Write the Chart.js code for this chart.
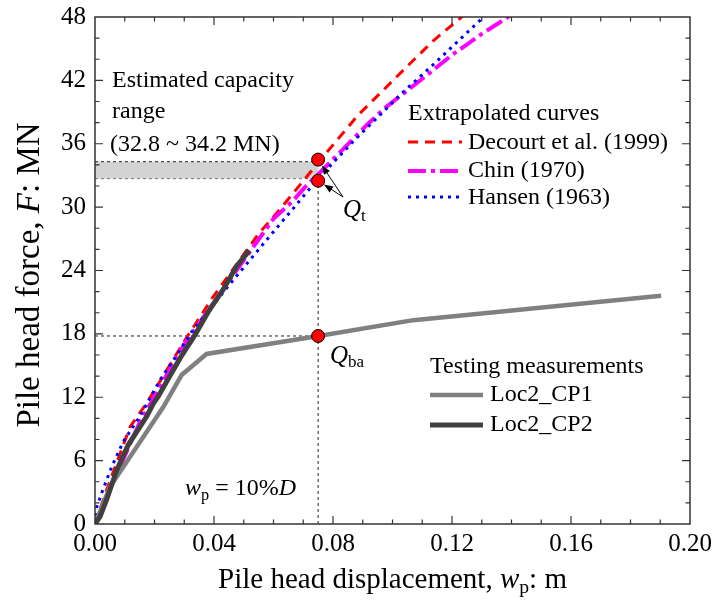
<!DOCTYPE html>
<html lang="en">
<head>
<meta charset="UTF-8">
<title>Pile head force vs displacement</title>
<script src="https://cdn.jsdelivr.net/npm/chart.js@4.4.1/dist/chart.umd.min.js"></script>
<style>
    html, body { margin: 0; padding: 0; background: #fff; }
    .chart-container { position: relative; width: 716px; height: 613px; }
</style>
</head>
<body>
<div class="chart-container">
    <canvas id="pileChart" width="716" height="613"></canvas>
</div>
<script>
    // values: x = pile head displacement (m), y = force (MN)
    const cp1X = [0, 0.005, 0.023, 0.0291, 0.0375, 0.0751, 0.107, 0.1903];
    const cp1Y = [0, 3.5, 11.1, 14.1, 16.1, 17.8, 19.3, 21.6];

    const cp2X = [0, 0.0017, 0.0039, 0.0073, 0.0112, 0.0174, 0.0196, 0.0213, 0.0241, 0.0286, 0.0336, 0.0381, 0.0431, 0.0476, 0.0519];
    const cp2Y = [0, 0.7, 2.3, 5.1, 7.5, 10.2, 11.4, 12.1, 13.5, 15.7, 17.9, 20.1, 22.2, 24.4, 25.9];

    const decourtX = [0, 0.004, 0.0118, 0.0175, 0.0309, 0.0397, 0.0548, 0.0622, 0.0766, 0.0884, 0.1002, 0.1052, 0.1135, 0.1245];
    const decourtY = [0, 3.3, 9.2, 11.5, 17.7, 21.5, 27.4, 29.8, 34.75, 38.7, 42.0, 43.4, 45.7, 48.3];

    const chinX = [0, 0.005, 0.015, 0.03, 0.045, 0.06, 0.0662, 0.0706, 0.075, 0.0824, 0.0918, 0.0975, 0.1116, 0.12, 0.13, 0.14];
    const chinY = [0, 3.3, 9.6, 17.0, 23.0, 28.9, 30.5, 31.9, 33.1, 35.2, 37.9, 39.4, 42.5, 44.4, 46.4, 48.2];

    const hansenX = [0, 0.0006, 0.0022, 0.0056, 0.0095, 0.0151, 0.0218, 0.0275, 0.0325, 0.045, 0.0577, 0.0667, 0.075, 0.0864, 0.1032, 0.1143, 0.131];
    const hansenY = [0, 1.6, 2.9, 5.4, 7.8, 10.2, 13.6, 16.0, 18.2, 22.6, 26.9, 29.9, 32.7, 36.1, 40.8, 43.65, 48.1];

    // Q_t (upper, lower) and Q_ba at wp = 10%D
    const qX = [0.075, 0.075, 0.075];
    const qY = [34.5, 32.5, 17.8];

    // estimated capacity band and guide lines
    const bandX = [0, 0.075];
    const bandTop = 34.3;
    const bandBottom = 32.7;
    const guideHX = [0, 0.075], guideHY = [17.8, 17.8];
    const guideVX = [0.075, 0.075], guideVY = [0, 32.5];

    // axes
    const xMin = 0, xMax = 0.2, xStep = 0.04, xMinor = 0.01;
    const yMin = 0, yMax = 48, yStep = 6, yMinor = 2;

    const serif = "'Liberation Serif', 'Times New Roman', serif";

    function pts(xs, ys) {
        return xs.map((v, i) => ({ x: v, y: Array.isArray(ys) ? ys[i] : ys }));
    }

    const styles = {
        cp1: { color: '#808080', width: 4.5, dash: [] },
        cp2: { color: '#404040', width: 5, dash: [] },
        decourt: { color: '#ff0000', width: 3, dash: [10, 7] },
        chin: { color: '#ff00ff', width: 4, dash: [18, 5, 4, 5] },
        hansen: { color: '#0000ff', width: 3, dash: [3, 5] }
    };

    function lineSet(data, st, order) {
        return {
            data: data, showLine: true, pointRadius: 0,
            borderColor: st.color, borderWidth: st.width, borderDash: st.dash,
            tension: 0, fill: false, order: order
        };
    }

    const guide = { borderColor: '#222', borderWidth: 1, borderDash: [3, 3], showLine: true, pointRadius: 0, tension: 0 };

    // text helper: parts with italic / subscript pieces
    function rich(ctx, x, y, parts, size) {
        let cx = x;
        parts.forEach(p => {
            const s = p.sub ? size * 0.68 : size;
            ctx.font = (p.i ? 'italic ' : '') + s + 'px ' + serif;
            ctx.fillText(p.t, cx, p.sub ? y + size * 0.28 : y);
            cx += ctx.measureText(p.t).width;
        });
        return cx - x;
    }
    function richWidth(ctx, parts, size) {
        let w = 0;
        parts.forEach(p => {
            const s = p.sub ? size * 0.68 : size;
            ctx.font = (p.i ? 'italic ' : '') + s + 'px ' + serif;
            w += ctx.measureText(p.t).width;
        });
        return w;
    }

    function sample(ctx, x1, x2, y, st) {
        ctx.save();
        ctx.strokeStyle = st.color; ctx.lineWidth = st.width; ctx.setLineDash(st.dash);
        ctx.beginPath(); ctx.moveTo(x1, y); ctx.lineTo(x2, y); ctx.stroke();
        ctx.restore();
    }

    function arrow(ctx, sx, sy, cx, cy, r) {
        const dx = sx - cx, dy = sy - cy, len = Math.hypot(dx, dy);
        const ux = dx / len, uy = dy / len;
        const tx = cx + ux * r, ty = cy + uy * r;
        ctx.beginPath(); ctx.moveTo(sx, sy); ctx.lineTo(tx + ux * 6, ty + uy * 6); ctx.stroke();
        ctx.beginPath();
        ctx.moveTo(tx, ty);
        ctx.lineTo(tx + ux * 9 - uy * 3.5, ty + uy * 9 + ux * 3.5);
        ctx.lineTo(tx + ux * 9 + uy * 3.5, ty + uy * 9 - ux * 3.5);
        ctx.closePath(); ctx.fill();
    }

    const decor = {
        id: 'decor',
        afterDraw(chart) {
            const { ctx, chartArea: a, scales: { x, y } } = chart;
            ctx.save();
            // frame + inward ticks on all sides
            ctx.strokeStyle = '#333'; ctx.lineWidth = 1.5;
            ctx.strokeRect(a.left, a.top, a.right - a.left, a.bottom - a.top);
            ctx.lineWidth = 1.2;
            const nx = Math.round((xMax - xMin) / xMinor);
            for (let i = 1; i < nx; i++) {
                const px = x.getPixelForValue(xMin + i * xMinor);
                const L = (i % Math.round(xStep / xMinor) === 0) ? 8 : 4.5;
                ctx.beginPath();
                ctx.moveTo(px, a.bottom); ctx.lineTo(px, a.bottom - L);
                ctx.moveTo(px, a.top); ctx.lineTo(px, a.top + L);
                ctx.stroke();
            }
            const ny = Math.round((yMax - yMin) / yMinor);
            for (let i = 1; i < ny; i++) {
                const py = y.getPixelForValue(yMin + i * yMinor);
                const L = (i % Math.round(yStep / yMinor) === 0) ? 8 : 4.5;
                ctx.beginPath();
                ctx.moveTo(a.left, py); ctx.lineTo(a.left + L, py);
                ctx.moveTo(a.right, py); ctx.lineTo(a.right - L, py);
                ctx.stroke();
            }

            ctx.fillStyle = '#000';
            ctx.textBaseline = 'middle';
            ctx.textAlign = 'left';

            // axis titles
            const xt = [{ t: 'Pile head displacement, ' }, { t: 'w', i: true }, { t: 'p', sub: true }, { t: ': m' }];
            const xw = richWidth(ctx, xt, 29);
            rich(ctx, (a.left + a.right) / 2 - xw / 2, 580, xt, 29);
            const yt = [{ t: 'Pile head force, ' }, { t: 'F', i: true }, { t: ': MN' }];
            ctx.save();
            ctx.translate(30, 275);
            ctx.rotate(-Math.PI / 2);
            const yw = richWidth(ctx, yt, 33);
            rich(ctx, -yw / 2, 0, yt, 33);
            ctx.restore();

            // annotations
            const fs = 24;
            rich(ctx, 112, 81, [{ t: 'Estimated capacity' }], fs);
            rich(ctx, 112, 112, [{ t: 'range' }], fs);
            rich(ctx, 110, 145, [{ t: '(32.8 ~ 34.2 MN)' }], fs);

            rich(ctx, 408, 114, [{ t: 'Extrapolated curves' }], fs);
            sample(ctx, 408, 462, 142, styles.decourt);
            sample(ctx, 408, 462, 171, styles.chin);
            sample(ctx, 408, 462, 197, styles.hansen);
            rich(ctx, 468, 143, [{ t: 'Decourt et al. (1999)' }], fs);
            rich(ctx, 468, 171, [{ t: 'Chin (1970)' }], fs);
            rich(ctx, 468, 198, [{ t: 'Hansen (1963)' }], fs);

            rich(ctx, 430, 367, [{ t: 'Testing measurements' }], fs);
            sample(ctx, 430, 483, 395, styles.cp1);
            sample(ctx, 430, 483, 425, styles.cp2);
            rich(ctx, 490, 395, [{ t: 'Loc2_CP1' }], fs);
            rich(ctx, 490, 425, [{ t: 'Loc2_CP2' }], fs);

            rich(ctx, 185, 489, [{ t: 'w', i: true }, { t: 'p', sub: true }, { t: ' = 10%' }, { t: 'D', i: true }], fs);

            rich(ctx, 343, 210, [{ t: 'Q', i: true }, { t: 't', sub: true }], 25);
            rich(ctx, 330, 356, [{ t: 'Q', i: true }, { t: 'ba', sub: true }], 25);

            // arrows from Q_t label to the two points
            ctx.strokeStyle = '#000'; ctx.lineWidth = 1;
            const qx = x.getPixelForValue(qX[0]);
            arrow(ctx, 343, 197, qx, y.getPixelForValue(qY[0]), 7);
            arrow(ctx, 343, 197, qx, y.getPixelForValue(qY[1]), 7);
            ctx.restore();
        }
    };

    const ctx = document.getElementById('pileChart').getContext('2d');
    const chart = new Chart(ctx, {
        type: 'scatter',
        data: {
            datasets: [
                { data: pts(qX, qY), pointRadius: 6.5, pointBackgroundColor: '#ff0000', pointBorderColor: '#000', pointBorderWidth: 1, showLine: false, order: 0 },
                lineSet(pts(cp2X, cp2Y), styles.cp2, 1),
                lineSet(pts(cp1X, cp1Y), styles.cp1, 2),
                lineSet(pts(hansenX, hansenY), styles.hansen, 3),
                lineSet(pts(chinX, chinY), styles.chin, 4),
                lineSet(pts(decourtX, decourtY), styles.decourt, 5),
                Object.assign({ data: pts(guideHX, guideHY), order: 6 }, guide),
                Object.assign({ data: pts(guideVX, guideVY), order: 6 }, guide),
                Object.assign({ data: pts(bandX, bandTop), order: 7, fill: '+1', backgroundColor: '#d3d3d3' }, guide),
                Object.assign({ data: pts(bandX, bandBottom), order: 7 }, guide)
            ]
        },
        options: {
            responsive: false,
            animation: false,
            devicePixelRatio: 1,
            layout: { padding: { left: 0, right: 26, top: 17, bottom: 0 } },
            plugins: { legend: { display: false }, tooltip: { enabled: false } },
            scales: {
                x: {
                    type: 'linear', min: xMin, max: xMax,
                    grid: { display: false, drawTicks: false },
                    border: { display: false },
                    ticks: { stepSize: xStep, padding: 5, color: '#000', font: { family: serif, size: 25 },
                        callback: v => v.toFixed(2) },
                    afterFit: s => { s.height = 89; s.paddingLeft = 0; s.paddingRight = 0; }
                },
                y: {
                    type: 'linear', min: yMin, max: yMax,
                    grid: { display: false, drawTicks: false },
                    border: { display: false },
                    ticks: { stepSize: yStep, padding: 9, color: '#000', font: { family: serif, size: 25 } },
                    afterFit: s => { s.width = 95; s.paddingTop = 0; s.paddingBottom = 0; }
                }
            }
        },
        plugins: [decor]
    });
</script>
</body>
</html>
